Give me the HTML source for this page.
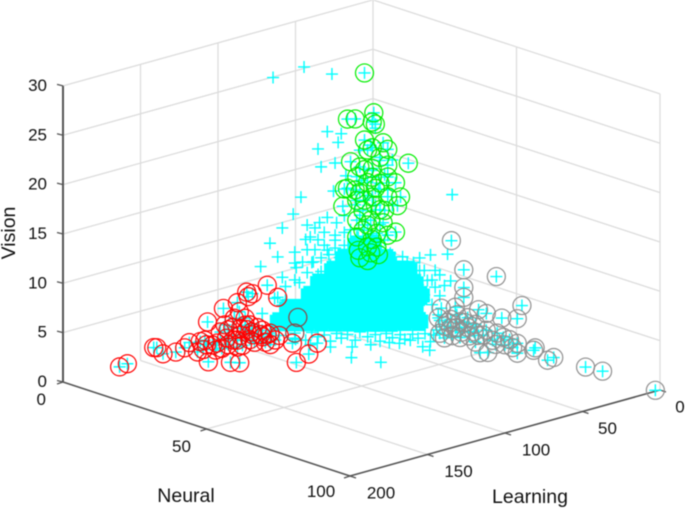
<!DOCTYPE html>
<html>
<head>
<meta charset="utf-8">
<style>
html,body{margin:0;padding:0;background:#fff}
svg{display:block;filter:blur(0.45px)}
text{font-family:"Liberation Sans",sans-serif;font-size:17px;fill:#111}
text.title{font-size:19.5px}
</style>
</head>
<body>
<svg id="chart" width="685" height="509" viewBox="0 0 685 509" xmlns="http://www.w3.org/2000/svg"></svg>
<script>
const neuralTicks=[0,50,100];
const learningTicks=[0,50,100,150,200];
const visionTicks=[0,5,10,15,20,25,30];

const redNeural=[10,10,10,10,10,15,10,15,10,5,15,10,10,20,20,10,15,10,5,10,15,10,10,10,15,15,10,15,20,10,5,10,10,15,10,15,10,20,30,20,30,10,10,10,10,10,15,10,10,10,10,10,10,10,10,10,10,10,10,10,10,10,10,10];
const redLearning=[182,177,160,158,154,155,140,141,130,116,134,122,115,129,123,106,114,100,87,99,96,80,101,113,118,112,96,99,100,117,110,126,109,106,93,96,104,89,97,73,105,112,106,100,95,90,94,98,101,108,114,137,128,116,104,98,91,85,112,106,120,127,88,79];
const redVision=[1.7,1.8,2.7,2.6,1.8,2.5,1.8,1.9,2.0,2.9,0.6,1.3,4.7,0.8,0.5,4.9,4.8,5.7,4.5,5.2,6.7,4.3,2.4,1.6,2.1,1.3,1.2,1.6,1.8,2.4,0.5,1.5,2.5,2.4,1.8,1.7,1.5,1.0,1.2,0.3,0.7,2.4,1.1,1.9,0.4,1.4,0.6,0.8,3.1,3.4,3.0,2.2,1.1,0.7,2.2,2.3,1,0.9,0.9,0.4,0.7,2,0.1,0.4];

const overlapNeural=[10,10];
const overlapLearning=[67,69];
const overlapVision=[1.7,0.2];

const grayNeural=[50,50,50,50,50,60,60,60,60,60,60,60,60,60,60,60,60,60,60,60,60,60,60,60,60,60,60,70,70,70,70,80,80,100,60,60,60,60,60,60,60,60,60,60,60,60,60,60,60,60,60,60,60,60];
const grayLearning=[42,34,13,34,34,15,18,28,38,43,67,58,69,57,61,68,65,55,50,42,37,40,34,27,23,18,18,26,25,17,13,11,0,3,57,52,46,38,31,61,55,65,49,45,26,63,58,54,60,50,45,43,32,21];
const grayVision=[12.2,8.9,7.3,7.1,6.1,5.4,4.2,4.7,5.6,6.2,7.4,7.1,6.5,6.3,6,4.9,4.3,3.9,4.7,1.8,1.6,3.5,2.7,2.7,2.3,1.7,0.7,2.3,2.5,0.9,1.0,0.9,0,0.1,5,5.3,4.1,3.9,3.3,5.1,5.5,5.5,3.8,3,1.9,5.8,5,4.4,4.3,5.7,4.8,3.6,2.2,1.4];

const greenNeural=[10,10,10,10,10,10,10,10,10,10,10,15,10,10,10,10,10,10,10,10,15,15,10,10,10,10,10,10,10,10,10,10,10,10,10,10,10,10,10,10,10,10,10,10,10,10,10,10,10,10,10,10,10,10,10,10,10];
const greenLearning=[24,18,35,30,19,17,24,12,19,9,33,5,14,27,19,9,35,37,4,22,10,12,38,29,19,9,14,25,4,9,29,20,12,29,22,16,28,20,25,16,19,27,14,9,22,29,22,19,27,15,24,17,22,11,30,17,24];
const greenVision=[24.6,20.3,20.4,20.2,19.4,19.1,17.8,17,16.8,16.2,16,15.1,15.6,15.2,14.7,14.6,13.4,13.4,12.6,13.4,11.9,11.1,11.7,11.9,11.8,11.4,10.3,10.7,7.6,7.5,9.9,9.5,8.9,8.2,6.9,6.6,6.8,6.2,8.7,8,13.8,12.6,13,13.4,16.7,14.3,5.5,7.5,6,5.8,11.7,10.9,9.1,10.1,13,12.6,14.8];

const otherNeural=[10,10,10,10,10,10,10,10,10,10,10,10,10,10,10,10,10,10,10,10,10,10,10,10,10,10,10,10,10,10,10,10,10,10,10,10,20,60,60,60,60,60,60,60,60,60,60,60,60,60,60,60,60,60,30,40,40,40,40,50,30,30,30,30,40];
const otherLearning=[83,63,45,48,39,41,54,52,43,36,44,65,70,77,85,91,80,69,69,61,53,48,42,59,54,48,61,68,77,90,75,57,52,47,37,37,87,60,74,63,78,61,71,92,85,100,81,71,76,68,65,78,68,72,69,88,69,57,42,56,83,96,57,45,50];
const otherVision=[26.7,26.9,25.4,19.7,19.1,18.3,18.2,16.3,16.3,14.7,13.5,13.8,12.3,11.2,10,7.9,8.4,8.4,7.3,10.8,10.7,11,10.2,9.5,9,7.7,8.3,6.8,6.2,3.1,3.8,6.9,5.7,7.2,7.7,9,1.3,18.6,13.1,12.7,11.7,9.9,9.7,13.7,12.8,14.4,13.1,11.4,10.6,8.7,9.6,8.7,6.2,4.9,0.7,1.4,0.1,1.5,0.5,1.7,1.3,2.1,0.4,0.1,1.5];

const fringeNeural=[30,30,30,30,30,30,30,30,30,30,30,30,30,30,30,30,30,30,30,30,30,30,30,30,30,30,30,30,30,30,40,40,40,40,40,40,40,40,40,40,40,40,40,10,10,10,10,10,10,10,10,10,10,10,10,10,10,10,10,10,10,10,10,10,10,10,30,30,30,30,30,30,30,30,30,30];
const fringeLearning=[93,87,80,99,93,87,80,95,89,83,101,98,91,106,112,103,119,114,77,80,106,99,91,83,76,67,59,51,43,35,45,37,33,32,36,41,45,49,44,59,36,31,52,19,17,27,20,14,19,26,11,15,22,30,9,27,17,6,24,14,33,20,11,28,37,6,95,87,79,72,64,54,47,38,30,22];
const fringeVision=[13.8,13.1,12.5,12.9,11.6,11.8,11.2,10.4,10.6,9.6,10.7,9.5,9,9.1,8.7,8.7,7.8,6.9,10.1,12,3.2,2.7,2.7,1.9,1.9,1.3,1.3,0.5,0.5,0,1.5,0.8,1.8,3.3,4.5,5.7,6.9,8.1,8.3,9.8,7,7.3,9.5,19.6,18.7,16.9,17.1,15.3,14.5,13.8,13.7,12.4,12.1,11.5,12.1,10.3,10.4,10.4,9.2,8.8,9.1,8,7.1,8.1,10.7,15,3.3,2.7,2.5,2.1,2,1.3,1.1,0.6,0.3,0];

const coreNeural=[30,30,30,30,30,30,30,30,30,30,30,30,30,30,30,30,30,30,30,30,30,30,30,30,30,30,30,30,30,30,30,30,30,30,30,30,30,30,30,30,30,30,30,30,30,30,30,30,30,30,30];
const coreLearning=[66,56,74,65,55,47,81,72,63,54,45,37,90,81,72,63,54,45,35,96,87,78,69,60,51,42,33,110,101,92,83,74,65,56,47,38,29,116,107,98,89,80,71,62,53,44,35,26,25,29,33];
const coreVision=[10.9,10.5,9.9,9.5,9.1,8.7,9,8.6,8.3,7.9,7.5,7.1,8.1,7.7,7.3,6.9,6.5,6.1,5.7,7.1,6.7,6.3,5.9,5.5,5.1,4.7,4.3,6.4,6,5.6,5.2,4.8,4.4,4,3.6,3.2,2.8,5.3,4.9,4.5,4.1,3.7,3.3,2.9,2.5,2.1,1.8,1.4,4,5.4,6.9];

const NS='http://www.w3.org/2000/svg';
const svg=document.getElementById('chart');

function px(n,l){return 373+n*2.87-l*1.55;}
function py(n,l,z){return 296+n*0.94+l*0.43-z*9.87;}

function make(tag,attrs,parent){
  const e=document.createElementNS(NS,tag);
  for(const k in attrs){e.setAttribute(k,attrs[k]);}
  (parent||svg).appendChild(e);
  return e;
}
function seg(n1,l1,z1,n2,l2,z2,color,w,parent){
  return make('line',{x1:px(n1,l1),y1:py(n1,l1,z1),x2:px(n2,l2),y2:py(n2,l2,z2),stroke:color,'stroke-width':w},parent);
}

const gridGroup=make('g',{});


const GRID='#dcdcdc';
visionTicks.forEach(z=>{
  if(z>0){
    seg(0,200,z,0,0,z,GRID,1.3,gridGroup);
    seg(0,0,z,100,0,z,GRID,1.3,gridGroup);
  }
});
learningTicks.forEach(l=>{
  if(l<200){
    seg(0,l,0,0,l,30,GRID,1.3,gridGroup);
    if(l>0){seg(0,l,0,100,l,0,GRID,1.3,gridGroup);}
  }
});
neuralTicks.forEach(n=>{
  if(n>0){
    seg(n,0,0,n,0,30,GRID,1.3,gridGroup);
    seg(n,0,0,n,200,0,GRID,1.3,gridGroup);
  }
});

const axisGroup=make('g',{});


const AXIS='#555555';
seg(0,200,0,0,200,30,AXIS,2,axisGroup);
seg(0,200,0,100,200,0,AXIS,1.6,axisGroup);
seg(100,200,0,100,0,0,AXIS,1.6,axisGroup);

function label(str,x,y,anchor,name,cls){
  const t=make('text',{x:x,y:y,'text-anchor':anchor});
  t.textContent=str;
  if(cls){t.setAttribute('class',cls);}
  
  
  return t;
}

visionTicks.forEach(z=>{
  const x=px(0,200),y=py(0,200,z);
  make('line',{x1:x-6,y1:y-1.5,x2:x,y2:y,stroke:AXIS,'stroke-width':1.3},axisGroup);
  label(String(z),47,y+5,'end','vision-tick-label');
});
neuralTicks.forEach(n=>{
  const x=px(n,200),y=py(n,200,0);
  make('line',{x1:x,y1:y,x2:x-6,y2:y+2,stroke:AXIS,'stroke-width':1.3},axisGroup);
  const dx=n===0?-17:(n===50?-25:-29);
  label(String(n),x+dx,y+(n===100?21:23),n===0?'end':'middle','neural-tick-label');
});
learningTicks.forEach(l=>{
  const x=px(100,l),y=py(100,l,0);
  make('line',{x1:x,y1:y,x2:x+6,y2:y+2,stroke:AXIS,'stroke-width':1.3},axisGroup);
  const dx=l===0?20:(l===50?25:31);
  label(String(l),x+dx,y+22.5,'middle','learning-tick-label');
});

label('Neural',186,502,'middle','neural-axis-title','title');
label('Learning',530,503,'middle','learning-axis-title','title');
const vt=make('text',{x:0,y:0,'text-anchor':'middle','class':'title',transform:'translate(15,233) rotate(-90)'});
vt.textContent='Vision';



const CYAN='#00ffff';
function plus(n,l,z,half,w,parent){
  const x=px(n,l),y=py(n,l,z);
  make('path',{d:`M${x-half} ${y}H${x+half}M${x} ${y-half}V${y+half}`,stroke:CYAN,'stroke-width':w,fill:'none'},parent);
}

const coreGroup=make('g',{});


coreNeural.forEach((n,i)=>plus(n,coreLearning[i],coreVision[i],9.5,14,coreGroup));

const plusGroup=make('g',{});


[[otherNeural,otherLearning,otherVision],[fringeNeural,fringeLearning,fringeVision],[redNeural,redLearning,redVision],[overlapNeural,overlapLearning,overlapVision],[grayNeural,grayLearning,grayVision],[greenNeural,greenLearning,greenVision]].forEach(s=>{
  s[0].forEach((n,i)=>plus(n,s[1][i],s[2][i],6,1.4,plusGroup));
});

function rings(ns,ls,zs,color,name){
  const g=make('g',{});
  
  
  ns.forEach((n,i)=>{
    make('circle',{cx:px(n,ls[i]),cy:py(n,ls[i],zs[i]),r:9,fill:'none',stroke:color,'stroke-width':1.2},g);
  });
}
rings(greenNeural,greenLearning,greenVision,'#00ee00','green-circle-series');
rings(redNeural,redLearning,redVision,'#ff0000','red-circle-series');
rings(overlapNeural,overlapLearning,overlapVision,'#8a4545','dark-circle-series');
rings(grayNeural,grayLearning,grayVision,'#8f8f8f','gray-circle-series');
</script>
</body>
</html>
